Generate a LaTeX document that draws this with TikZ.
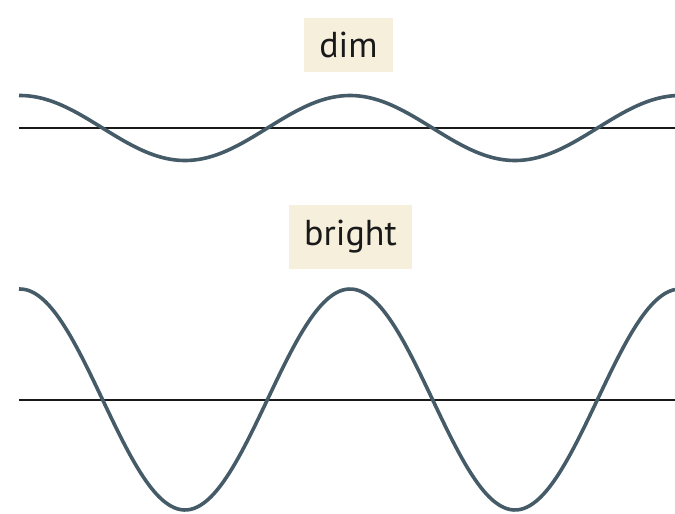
\documentclass[tikz,border=0pt]{standalone}
\usepackage{fontspec}
\setmainfont{PT Sans}
\definecolor{wave}{HTML}{455C68}
\definecolor{cream}{HTML}{F6EFDB}
\begin{document}
\begin{tikzpicture}[x=1pt,y=-1pt,
  wavestyle/.style={draw=wave,line width=3.6pt},
  axisline/.style={draw=black!90,line width=1.3pt},
  labelbox/.style={fill=cream,inner sep=0pt,font=\fontsize{36}{42}\selectfont,text=black!90}]
\useasboundingbox (0,0) rectangle (675,514);
\node[labelbox,minimum width=89pt,minimum height=54pt] (dim) at (348.5,45) {dim};
\node[labelbox,minimum width=123pt,minimum height=64pt] (bright) at (350.5,237) {bright};
\coordinate (a1) at (19,128); \coordinate (a2) at (675,128);
\coordinate (b1) at (19,400); \coordinate (b2) at (675,400);
\draw[axisline] (a1) -- (a2);
\draw[axisline] (b1) -- (b2);
\draw[wavestyle,domain=19:675,samples=200,smooth] plot (\x,{128-32.5*cos((\x-350)/330*360)});
\draw[wavestyle,domain=19:675,samples=200,smooth] plot (\x,{399.5-110.5*cos((\x-350)/330*360)});
\end{tikzpicture}
\end{document}
